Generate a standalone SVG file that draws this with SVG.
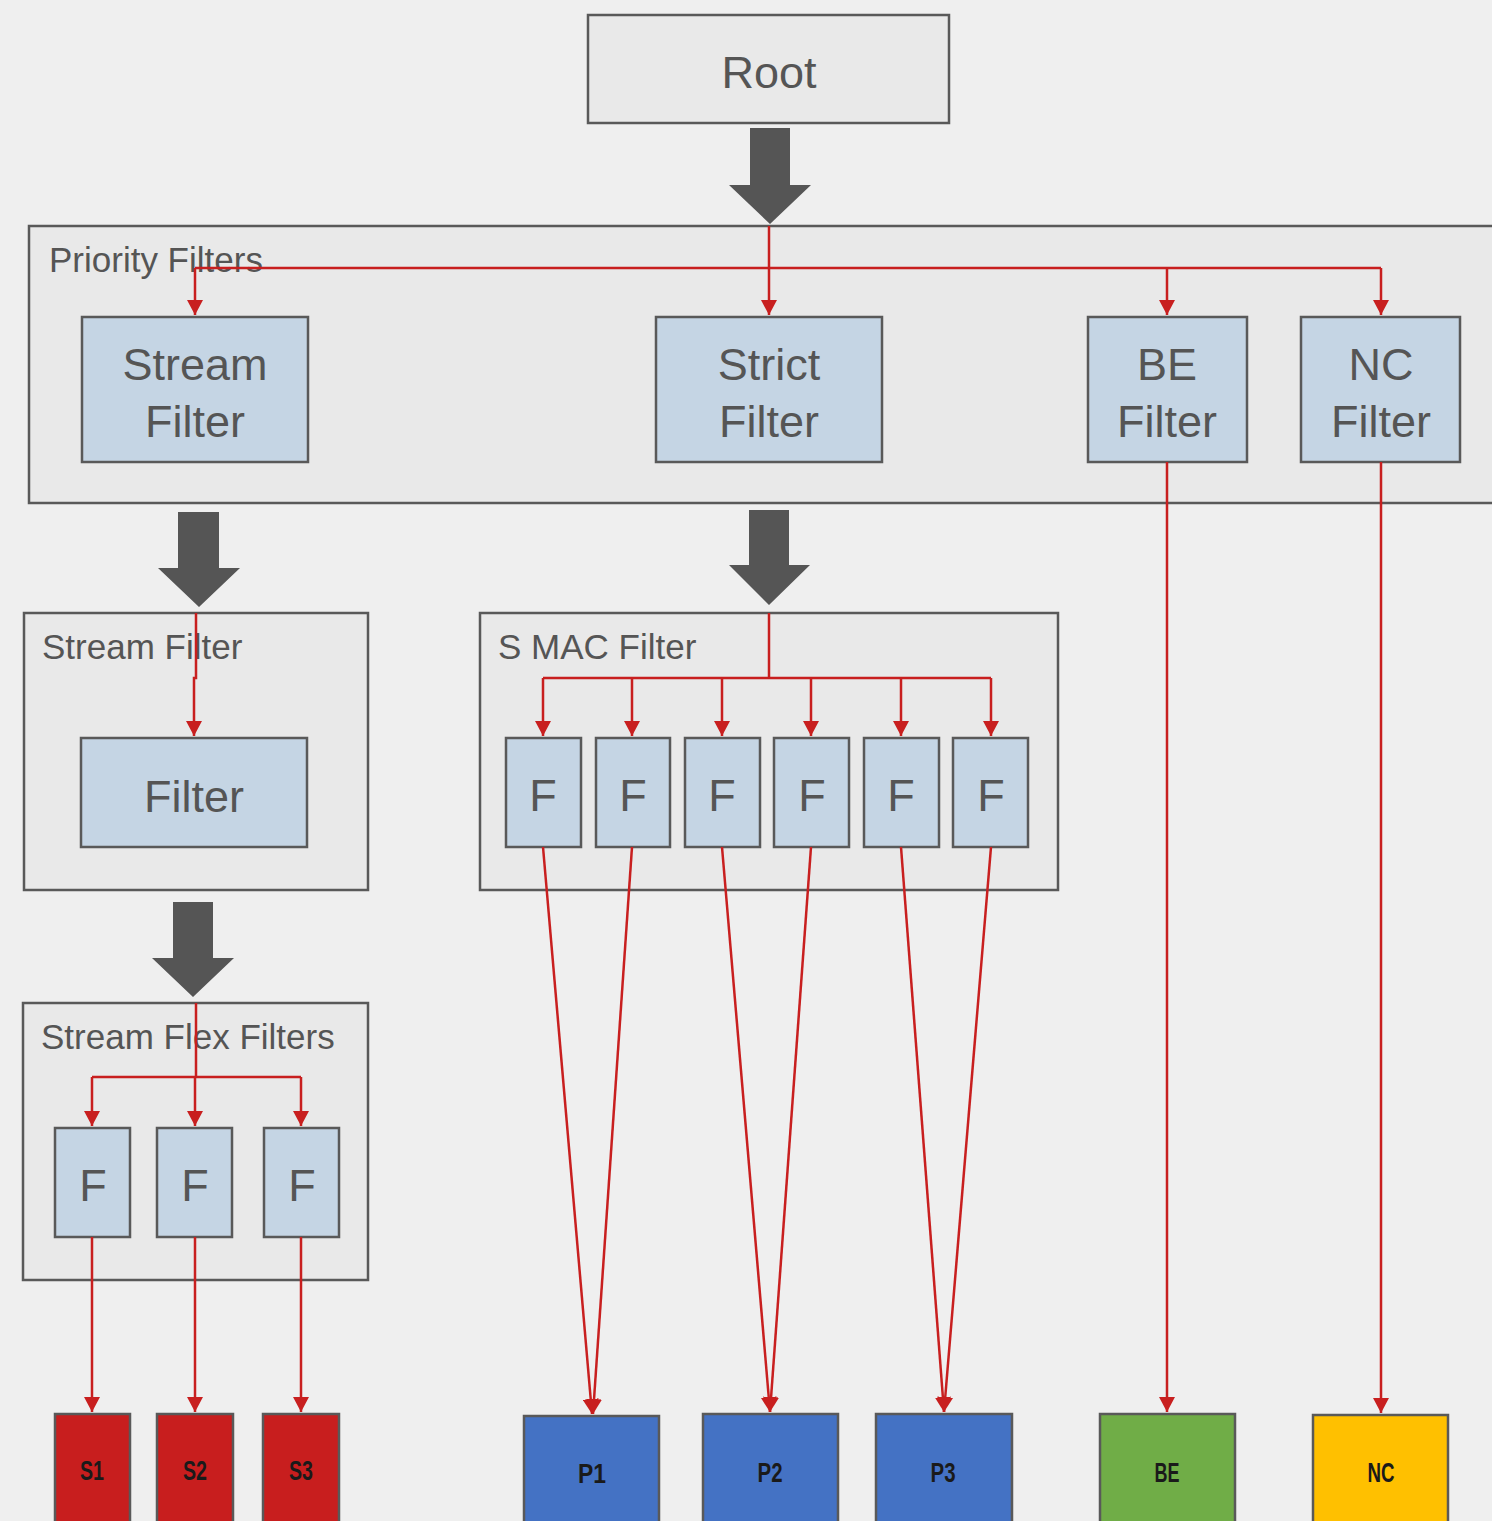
<svg xmlns="http://www.w3.org/2000/svg" width="1492" height="1521" viewBox="0 0 1492 1521">
  <defs>
    <style>
      .bg { fill: #efefef; }
      .box { fill: #e9e9e9; stroke: #595959; stroke-width: 2.5; }
      .node { fill: #c5d5e4; stroke: #595959; stroke-width: 2.5; }
      .title { font-family: "Liberation Sans", Arial, sans-serif; font-size: 35px; fill: #555555; }
      .label { font-family: "Liberation Sans", Arial, sans-serif; font-size: 45px; fill: #555555; text-anchor: middle; }
      .out { stroke: #595959; stroke-width: 2.5; }
      .outlabel { font-family: "Liberation Sans", Arial, sans-serif; font-size: 27px; font-weight: bold; fill: #1a1a1a; text-anchor: middle; }
      .big { fill: #555555; }
      .wire { fill: none; stroke: #c81f1f; stroke-width: 2.5; }
    </style>
    <marker id="ah" viewBox="0 0 15 16" refX="15" refY="8" markerWidth="15" markerHeight="16" markerUnits="userSpaceOnUse" orient="auto">
      <path d="M0,0 L15,8 L0,16 z" fill="#c81f1f"/>
    </marker>
  </defs>

  <rect class="bg" x="0" y="0" width="1492" height="1521"/>

  <!-- Root -->
  <g id="root">
    <rect class="box" x="588" y="15" width="361" height="108"/>
    <text class="label" x="769" y="88">Root</text>
  </g>

  <!-- Block arrows between stages -->
  <g id="stage-arrows">
    <polygon class="big" points="750,128 790,128 790,185 811,185 770,224 729,185 750,185"/>
    <polygon class="big" points="178,512 219,512 219,568 240,568 199,607 158,568 178,568"/>
    <polygon class="big" points="749,510 789,510 789,565 810,565 769,605 729,565 749,565"/>
    <polygon class="big" points="173,902 213,902 213,958 234,958 193,997 152,958 173,958"/>
  </g>

  <!-- Priority Filters stage -->
  <g id="priority-filters">
    <rect class="box" x="29" y="226" width="1475" height="277"/>
    <text class="title" x="49" y="272">Priority Filters</text>
  </g>
  <g id="stream-filter">
    <rect class="node" x="82" y="317" width="226" height="145"/>
    <text class="label" x="195" y="380">Stream</text>
    <text class="label" x="195" y="437">Filter</text>
  </g>
  <g id="strict-filter">
    <rect class="node" x="656" y="317" width="226" height="145"/>
    <text class="label" x="769" y="380">Strict</text>
    <text class="label" x="769" y="437">Filter</text>
  </g>
  <g id="be-filter">
    <rect class="node" x="1088" y="317" width="159" height="145"/>
    <text class="label" x="1167" y="380">BE</text>
    <text class="label" x="1167" y="437">Filter</text>
  </g>
  <g id="nc-filter">
    <rect class="node" x="1301" y="317" width="159" height="145"/>
    <text class="label" x="1381" y="380">NC</text>
    <text class="label" x="1381" y="437">Filter</text>
  </g>

  <!-- Stream Filter stage -->
  <g id="stream-filter-stage">
    <rect class="box" x="24" y="613" width="344" height="277"/>
    <text class="title" x="42" y="659">Stream Filter</text>
  </g>
  <g id="filter">
    <rect class="node" x="81" y="738" width="226" height="109"/>
    <text class="label" x="194" y="812">Filter</text>
  </g>

  <!-- S MAC Filter stage -->
  <g id="smac-filter-stage">
    <rect class="box" x="480" y="613" width="578" height="277"/>
    <text class="title" x="498" y="659">S MAC Filter</text>
  </g>
  <g id="smac-f1"><rect class="node" x="506" y="738" width="75" height="109"/><text class="label" x="543" y="811">F</text></g>
  <g id="smac-f2"><rect class="node" x="596" y="738" width="74" height="109"/><text class="label" x="633" y="811">F</text></g>
  <g id="smac-f3"><rect class="node" x="685" y="738" width="75" height="109"/><text class="label" x="722" y="811">F</text></g>
  <g id="smac-f4"><rect class="node" x="774" y="738" width="75" height="109"/><text class="label" x="812" y="811">F</text></g>
  <g id="smac-f5"><rect class="node" x="864" y="738" width="75" height="109"/><text class="label" x="901" y="811">F</text></g>
  <g id="smac-f6"><rect class="node" x="953" y="738" width="75" height="109"/><text class="label" x="991" y="811">F</text></g>

  <!-- Stream Flex Filters stage -->
  <g id="flex-filters-stage">
    <rect class="box" x="23" y="1003" width="345" height="277"/>
    <text class="title" x="41" y="1049">Stream Flex Filters</text>
  </g>
  <g id="flex-f1"><rect class="node" x="55" y="1128" width="75" height="109"/><text class="label" x="93" y="1201">F</text></g>
  <g id="flex-f2"><rect class="node" x="157" y="1128" width="75" height="109"/><text class="label" x="195" y="1201">F</text></g>
  <g id="flex-f3"><rect class="node" x="264" y="1128" width="75" height="109"/><text class="label" x="302" y="1201">F</text></g>

  <!-- Output queues -->
  <g id="s1"><rect class="out" fill="#c81e1e" x="55" y="1414" width="75" height="120"/><text class="outlabel" x="92" y="1480" textLength="24" lengthAdjust="spacingAndGlyphs">S1</text></g>
  <g id="s2"><rect class="out" fill="#c81e1e" x="157" y="1414" width="76" height="120"/><text class="outlabel" x="195" y="1480" textLength="24" lengthAdjust="spacingAndGlyphs">S2</text></g>
  <g id="s3"><rect class="out" fill="#c81e1e" x="263" y="1414" width="76" height="120"/><text class="outlabel" x="301" y="1480" textLength="24" lengthAdjust="spacingAndGlyphs">S3</text></g>
  <g id="p1"><rect class="out" fill="#4472c4" x="524" y="1416" width="135" height="120"/><text class="outlabel" x="592" y="1483" textLength="28" lengthAdjust="spacingAndGlyphs">P1</text></g>
  <g id="p2"><rect class="out" fill="#4472c4" x="703" y="1414" width="135" height="120"/><text class="outlabel" x="770" y="1482" textLength="25" lengthAdjust="spacingAndGlyphs">P2</text></g>
  <g id="p3"><rect class="out" fill="#4472c4" x="876" y="1414" width="136" height="120"/><text class="outlabel" x="943" y="1482" textLength="25" lengthAdjust="spacingAndGlyphs">P3</text></g>
  <g id="be"><rect class="out" fill="#70ad47" x="1100" y="1414" width="135" height="120"/><text class="outlabel" x="1167" y="1482" textLength="25" lengthAdjust="spacingAndGlyphs">BE</text></g>
  <g id="nc"><rect class="out" fill="#ffc000" x="1313" y="1415" width="135" height="120"/><text class="outlabel" x="1381" y="1482" textLength="27" lengthAdjust="spacingAndGlyphs">NC</text></g>

  <!-- Connectors -->
  <g id="connectors">
    <!-- Priority fan-out -->
    <polyline class="wire" points="769,226 769,315" marker-end="url(#ah)"/>
    <polyline class="wire" points="1381,268 195,268"/>
    <polyline class="wire" points="195,268 195,315" marker-end="url(#ah)"/>
    <polyline class="wire" points="1167,268 1167,315" marker-end="url(#ah)"/>
    <polyline class="wire" points="1381,268 1381,315" marker-end="url(#ah)"/>

    <!-- Stream filter -->
    <polyline class="wire" points="196,613 196,678 194,678 194,736" marker-end="url(#ah)"/>

    <!-- S MAC fan-out -->
    <polyline class="wire" points="769,613 769,678"/>
    <polyline class="wire" points="543,678 991,678"/>
    <polyline class="wire" points="543,678 543,736" marker-end="url(#ah)"/>
    <polyline class="wire" points="632,678 632,736" marker-end="url(#ah)"/>
    <polyline class="wire" points="722,678 722,736" marker-end="url(#ah)"/>
    <polyline class="wire" points="811,678 811,736" marker-end="url(#ah)"/>
    <polyline class="wire" points="901,678 901,736" marker-end="url(#ah)"/>
    <polyline class="wire" points="991,678 991,736" marker-end="url(#ah)"/>

    <!-- Stream flex fan-out -->
    <polyline class="wire" points="196,1003 196,1077"/>
    <polyline class="wire" points="92,1077 301,1077"/>
    <polyline class="wire" points="92,1077 92,1126" marker-end="url(#ah)"/>
    <polyline class="wire" points="195,1077 195,1126" marker-end="url(#ah)"/>
    <polyline class="wire" points="301,1077 301,1126" marker-end="url(#ah)"/>

    <!-- Flex filters to stream queues -->
    <polyline class="wire" points="92,1237 92,1412" marker-end="url(#ah)"/>
    <polyline class="wire" points="195,1237 195,1412" marker-end="url(#ah)"/>
    <polyline class="wire" points="301,1237 301,1412" marker-end="url(#ah)"/>

    <!-- S MAC filters to priority queues -->
    <polyline class="wire" points="543,847 592,1414" marker-end="url(#ah)"/>
    <polyline class="wire" points="632,847 593,1414" marker-end="url(#ah)"/>
    <polyline class="wire" points="722,847 770,1412" marker-end="url(#ah)"/>
    <polyline class="wire" points="811,847 770,1412" marker-end="url(#ah)"/>
    <polyline class="wire" points="901,847 944,1412" marker-end="url(#ah)"/>
    <polyline class="wire" points="991,847 944,1412" marker-end="url(#ah)"/>

    <!-- BE / NC straight down -->
    <polyline class="wire" points="1167,462 1167,1412" marker-end="url(#ah)"/>
    <polyline class="wire" points="1381,462 1381,1413" marker-end="url(#ah)"/>
  </g>
</svg>
